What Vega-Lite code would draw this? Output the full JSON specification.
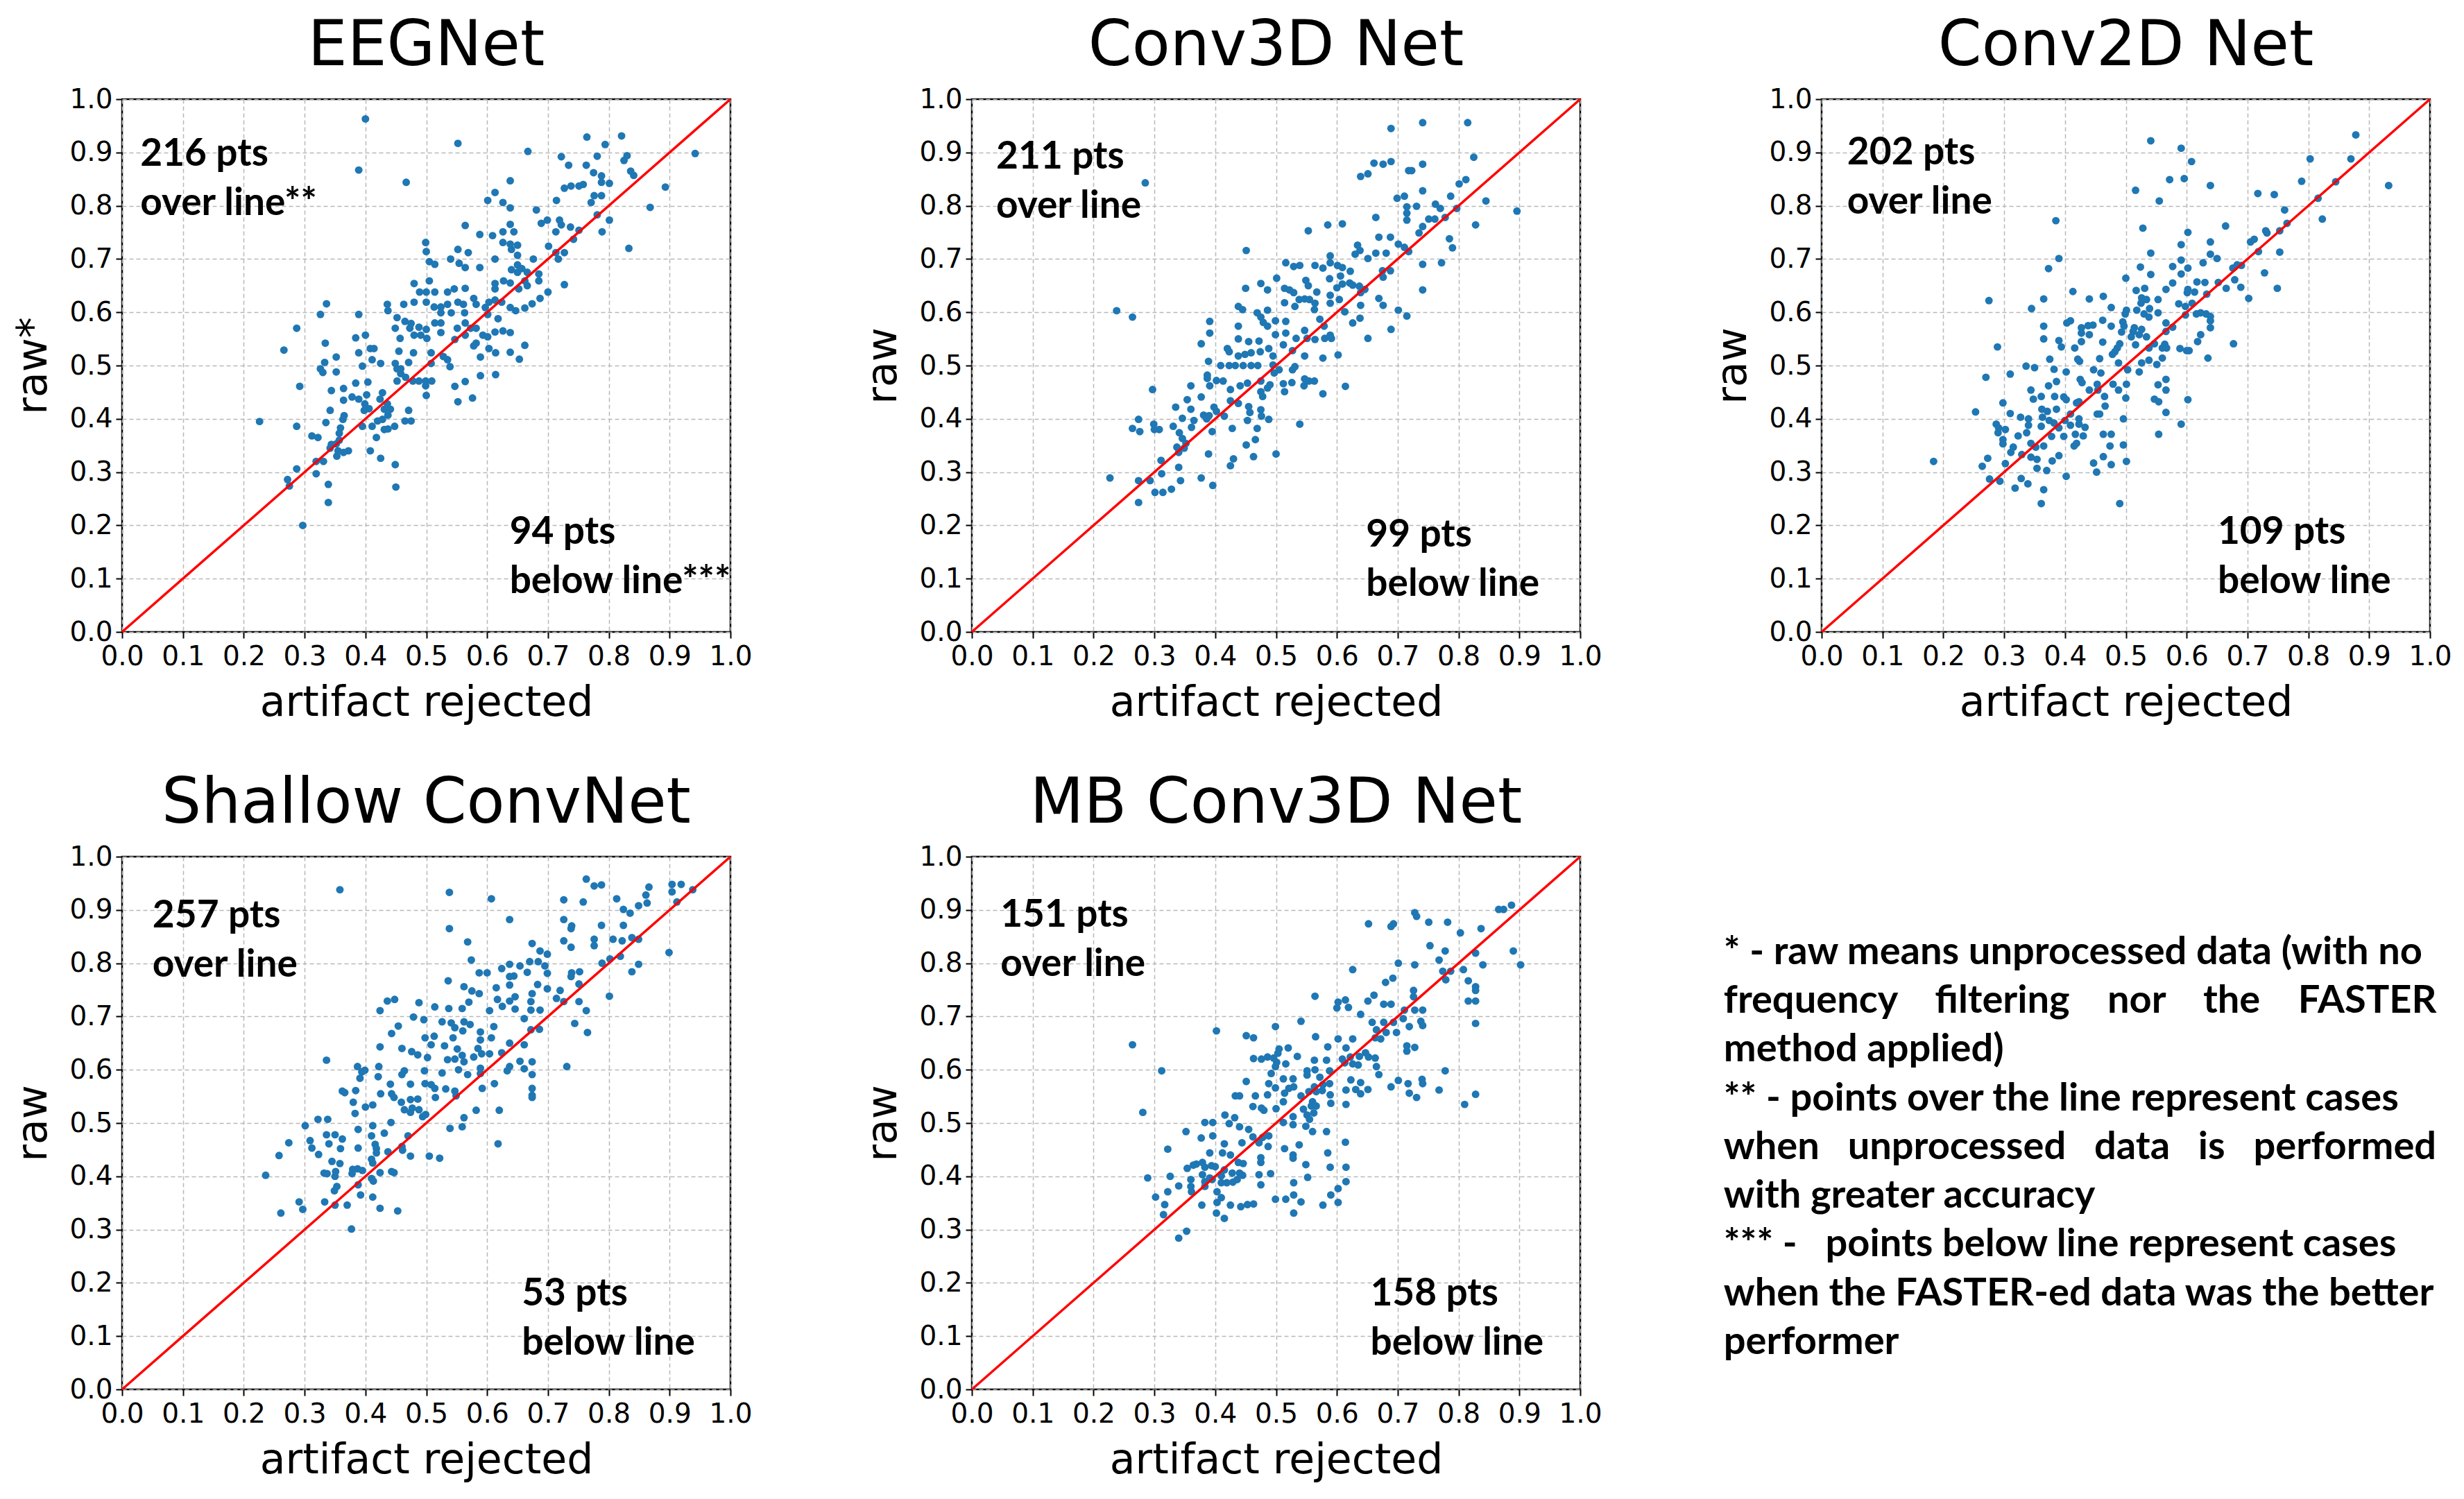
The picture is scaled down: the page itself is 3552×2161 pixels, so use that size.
{
  "$schema": "https://vega.github.io/schema/vega-lite/v6.json",
  "background": "white",
  "padding": {"left": 17, "top": 20, "right": 0, "bottom": 0},
  "config": {
    "font": "DejaVu Sans",
    "view": {"stroke": "#000000", "strokeWidth": 2.5},
    "axis": {
      "grid": true, "gridColor": "#b8b8b8", "gridDash": [6, 4], "gridWidth": 1.5,
      "domain": false, "ticks": true, "tickSize": 9, "tickWidth": 2, "tickColor": "#000000",
      "labelFont": "DejaVu Sans", "labelFontSize": 39, "labelColor": "#000000", "labelPadding": 5,
      "labelFlush": false, "labelOverlap": false,
      "titleFont": "DejaVu Sans", "titleFontSize": 60, "titleFontWeight": "normal", "titleColor": "#000000"
    },
    "axisX": {"titlePadding": 18, "labelPadding": 7},
    "axisY": {"titlePadding": 20},
    "title": {"font": "DejaVu Sans", "fontSize": 90, "fontWeight": "normal", "color": "#000000", "baseline": "alphabetic", "offset": 11},
    "text": {"font": "Lato", "fontWeight": "bold", "fontSize": 55, "color": "#000000"},
    "point": {"filled": true, "size": 120, "color": "#1f77b4", "opacity": 1, "strokeWidth": 0}
  },
  "datasets": {
    "eegnet": [
      {"rejected":0.40,"raw":0.963},{"rejected":0.552,"raw":0.917},{"rejected":0.389,"raw":0.867},{"rejected":0.467,"raw":0.844},{"rejected":0.667,"raw":0.902},{"rejected":0.764,"raw":0.929},{"rejected":0.821,"raw":0.931},{"rejected":0.794,"raw":0.915},{"rejected":0.942,"raw":0.898},{"rejected":0.722,"raw":0.892},
      {"rejected":0.734,"raw":0.876},{"rejected":0.781,"raw":0.893},{"rejected":0.830,"raw":0.894},{"rejected":0.825,"raw":0.885},{"rejected":0.763,"raw":0.876},{"rejected":0.836,"raw":0.865},{"rejected":0.841,"raw":0.857},{"rejected":0.775,"raw":0.862},{"rejected":0.788,"raw":0.856},{"rejected":0.801,"raw":0.842},
      {"rejected":0.788,"raw":0.844},{"rejected":0.758,"raw":0.840},{"rejected":0.751,"raw":0.837},{"rejected":0.738,"raw":0.837},{"rejected":0.727,"raw":0.833},{"rejected":0.893,"raw":0.835},{"rejected":0.776,"raw":0.819},{"rejected":0.788,"raw":0.819},{"rejected":0.771,"raw":0.806},{"rejected":0.714,"raw":0.810},
      {"rejected":0.868,"raw":0.797},{"rejected":0.638,"raw":0.847},{"rejected":0.613,"raw":0.825},{"rejected":0.601,"raw":0.810},{"rejected":0.626,"raw":0.806},{"rejected":0.638,"raw":0.796},{"rejected":0.681,"raw":0.792},{"rejected":0.781,"raw":0.783},{"rejected":0.801,"raw":0.773},{"rejected":0.719,"raw":0.773},
      {"rejected":0.699,"raw":0.773},{"rejected":0.689,"raw":0.767},{"rejected":0.722,"raw":0.764},{"rejected":0.737,"raw":0.760},{"rejected":0.751,"raw":0.754},{"rejected":0.713,"raw":0.751},{"rejected":0.789,"raw":0.751},{"rejected":0.742,"raw":0.737},{"rejected":0.833,"raw":0.720},{"rejected":0.638,"raw":0.765},
      {"rejected":0.644,"raw":0.751},{"rejected":0.626,"raw":0.751},{"rejected":0.609,"raw":0.744},{"rejected":0.588,"raw":0.746},{"rejected":0.564,"raw":0.763},{"rejected":0.626,"raw":0.731},{"rejected":0.638,"raw":0.728},{"rejected":0.650,"raw":0.726},{"rejected":0.640,"raw":0.718},{"rejected":0.650,"raw":0.707},
      {"rejected":0.701,"raw":0.724},{"rejected":0.713,"raw":0.712},{"rejected":0.727,"raw":0.712},{"rejected":0.717,"raw":0.700},{"rejected":0.676,"raw":0.700},{"rejected":0.552,"raw":0.718},{"rejected":0.569,"raw":0.712},{"rejected":0.613,"raw":0.700},{"rejected":0.499,"raw":0.731},{"rejected":0.500,"raw":0.714},
      {"rejected":0.540,"raw":0.700},{"rejected":0.554,"raw":0.692},{"rejected":0.564,"raw":0.684},{"rejected":0.588,"raw":0.684},{"rejected":0.505,"raw":0.695},{"rejected":0.514,"raw":0.690},{"rejected":0.650,"raw":0.689},{"rejected":0.640,"raw":0.680},{"rejected":0.650,"raw":0.675},{"rejected":0.657,"raw":0.682},
      {"rejected":0.666,"raw":0.675},{"rejected":0.685,"raw":0.672},{"rejected":0.685,"raw":0.659},{"rejected":0.662,"raw":0.659},{"rejected":0.666,"raw":0.650},{"rejected":0.652,"raw":0.644},{"rejected":0.638,"raw":0.655},{"rejected":0.627,"raw":0.659},{"rejected":0.613,"raw":0.654},{"rejected":0.613,"raw":0.644},
      {"rejected":0.700,"raw":0.638},{"rejected":0.727,"raw":0.652},{"rejected":0.687,"raw":0.626},{"rejected":0.674,"raw":0.616},{"rejected":0.662,"raw":0.608},{"rejected":0.647,"raw":0.603},{"rejected":0.638,"raw":0.609},{"rejected":0.624,"raw":0.619},{"rejected":0.613,"raw":0.623},{"rejected":0.603,"raw":0.619},
      {"rejected":0.597,"raw":0.609},{"rejected":0.618,"raw":0.588},{"rejected":0.601,"raw":0.596},{"rejected":0.480,"raw":0.654},{"rejected":0.505,"raw":0.659},{"rejected":0.489,"raw":0.638},{"rejected":0.500,"raw":0.638},{"rejected":0.514,"raw":0.638},{"rejected":0.535,"raw":0.638},{"rejected":0.546,"raw":0.644},
      {"rejected":0.564,"raw":0.645},{"rejected":0.500,"raw":0.619},{"rejected":0.480,"raw":0.619},{"rejected":0.463,"raw":0.615},{"rejected":0.436,"raw":0.615},{"rejected":0.437,"raw":0.603},{"rejected":0.452,"raw":0.590},{"rejected":0.465,"raw":0.583},{"rejected":0.475,"raw":0.579},{"rejected":0.488,"raw":0.572},
      {"rejected":0.500,"raw":0.568},{"rejected":0.449,"raw":0.570},{"rejected":0.473,"raw":0.570},{"rejected":0.457,"raw":0.551},{"rejected":0.480,"raw":0.557},{"rejected":0.491,"raw":0.557},{"rejected":0.501,"raw":0.551},{"rejected":0.513,"raw":0.610},{"rejected":0.524,"raw":0.610},{"rejected":0.535,"raw":0.615},
      {"rejected":0.552,"raw":0.619},{"rejected":0.561,"raw":0.615},{"rejected":0.578,"raw":0.626},{"rejected":0.582,"raw":0.615},{"rejected":0.524,"raw":0.599},{"rejected":0.541,"raw":0.599},{"rejected":0.563,"raw":0.599},{"rejected":0.514,"raw":0.580},{"rejected":0.524,"raw":0.580},{"rejected":0.564,"raw":0.580},
      {"rejected":0.551,"raw":0.570},{"rejected":0.573,"raw":0.570},{"rejected":0.582,"raw":0.570},{"rejected":0.524,"raw":0.562},{"rejected":0.593,"raw":0.557},{"rejected":0.601,"raw":0.554},{"rejected":0.613,"raw":0.563},{"rejected":0.626,"raw":0.565},{"rejected":0.638,"raw":0.562},{"rejected":0.547,"raw":0.549},
      {"rejected":0.564,"raw":0.557},{"rejected":0.582,"raw":0.542},{"rejected":0.578,"raw":0.537},{"rejected":0.603,"raw":0.532},{"rejected":0.614,"raw":0.524},{"rejected":0.638,"raw":0.525},{"rejected":0.662,"raw":0.538},{"rejected":0.653,"raw":0.512},{"rejected":0.589,"raw":0.516},{"rejected":0.535,"raw":0.511},
      {"rejected":0.528,"raw":0.517},{"rejected":0.508,"raw":0.524},{"rejected":0.479,"raw":0.524},{"rejected":0.455,"raw":0.527},{"rejected":0.449,"raw":0.504},{"rejected":0.471,"raw":0.506},{"rejected":0.458,"raw":0.494},{"rejected":0.508,"raw":0.504},{"rejected":0.539,"raw":0.498},{"rejected":0.425,"raw":0.504},
      {"rejected":0.411,"raw":0.511},{"rejected":0.408,"raw":0.532},{"rejected":0.414,"raw":0.532},{"rejected":0.400,"raw":0.557},{"rejected":0.384,"raw":0.552},{"rejected":0.389,"raw":0.596},{"rejected":0.389,"raw":0.524},{"rejected":0.395,"raw":0.499},{"rejected":0.326,"raw":0.596},{"rejected":0.336,"raw":0.616},
      {"rejected":0.287,"raw":0.570},{"rejected":0.266,"raw":0.529},{"rejected":0.334,"raw":0.542},{"rejected":0.352,"raw":0.516},{"rejected":0.333,"raw":0.506},{"rejected":0.326,"raw":0.494},{"rejected":0.330,"raw":0.487},{"rejected":0.352,"raw":0.488},{"rejected":0.292,"raw":0.461},{"rejected":0.344,"raw":0.453},
      {"rejected":0.364,"raw":0.457},{"rejected":0.364,"raw":0.435},{"rejected":0.384,"raw":0.467},{"rejected":0.404,"raw":0.469},{"rejected":0.378,"raw":0.441},{"rejected":0.389,"raw":0.437},{"rejected":0.402,"raw":0.445},{"rejected":0.399,"raw":0.428},{"rejected":0.398,"raw":0.416},{"rejected":0.406,"raw":0.419},
      {"rejected":0.428,"raw":0.449},{"rejected":0.424,"raw":0.437},{"rejected":0.436,"raw":0.428},{"rejected":0.441,"raw":0.418},{"rejected":0.431,"raw":0.418},{"rejected":0.437,"raw":0.407},{"rejected":0.428,"raw":0.399},{"rejected":0.420,"raw":0.396},{"rejected":0.437,"raw":0.381},{"rejected":0.448,"raw":0.386},
      {"rejected":0.431,"raw":0.380},{"rejected":0.411,"raw":0.386},{"rejected":0.395,"raw":0.386},{"rejected":0.471,"raw":0.416},{"rejected":0.465,"raw":0.396},{"rejected":0.475,"raw":0.396},{"rejected":0.452,"raw":0.471},{"rejected":0.452,"raw":0.494},{"rejected":0.458,"raw":0.485},{"rejected":0.466,"raw":0.478},
      {"rejected":0.478,"raw":0.471},{"rejected":0.488,"raw":0.471},{"rejected":0.499,"raw":0.471},{"rejected":0.509,"raw":0.471},{"rejected":0.499,"raw":0.462},{"rejected":0.500,"raw":0.444},{"rejected":0.547,"raw":0.461},{"rejected":0.564,"raw":0.470},{"rejected":0.552,"raw":0.432},{"rejected":0.576,"raw":0.439},
      {"rejected":0.589,"raw":0.481},{"rejected":0.614,"raw":0.483},{"rejected":0.342,"raw":0.416},{"rejected":0.365,"raw":0.406},{"rejected":0.363,"raw":0.399},{"rejected":0.335,"raw":0.393},{"rejected":0.359,"raw":0.383},{"rejected":0.357,"raw":0.373},{"rejected":0.357,"raw":0.360},{"rejected":0.352,"raw":0.353},
      {"rejected":0.344,"raw":0.352},{"rejected":0.342,"raw":0.345},{"rejected":0.355,"raw":0.340},{"rejected":0.372,"raw":0.340},{"rejected":0.364,"raw":0.337},{"rejected":0.353,"raw":0.330},{"rejected":0.312,"raw":0.368},{"rejected":0.322,"raw":0.365},{"rejected":0.287,"raw":0.386},{"rejected":0.226,"raw":0.395},
      {"rejected":0.408,"raw":0.340},{"rejected":0.425,"raw":0.326},{"rejected":0.418,"raw":0.365},{"rejected":0.449,"raw":0.314},{"rejected":0.450,"raw":0.272},{"rejected":0.319,"raw":0.320},{"rejected":0.331,"raw":0.320},{"rejected":0.287,"raw":0.306},{"rejected":0.319,"raw":0.297},{"rejected":0.272,"raw":0.286},
      {"rejected":0.275,"raw":0.274},{"rejected":0.339,"raw":0.277},{"rejected":0.339,"raw":0.243},{"rejected":0.297,"raw":0.200}
    ],
    "conv3d": [
      {"rejected":0.741,"raw":0.956},{"rejected":0.815,"raw":0.956},{"rejected":0.689,"raw":0.945},{"rejected":0.825,"raw":0.891},{"rejected":0.661,"raw":0.880},{"rejected":0.676,"raw":0.878},{"rejected":0.689,"raw":0.883},{"rejected":0.741,"raw":0.878},{"rejected":0.639,"raw":0.855},{"rejected":0.651,"raw":0.860},
      {"rejected":0.718,"raw":0.866},{"rejected":0.723,"raw":0.866},{"rejected":0.285,"raw":0.843},{"rejected":0.741,"raw":0.828},{"rejected":0.801,"raw":0.841},{"rejected":0.812,"raw":0.849},{"rejected":0.699,"raw":0.814},{"rejected":0.711,"raw":0.818},{"rejected":0.787,"raw":0.818},{"rejected":0.845,"raw":0.809},
      {"rejected":0.715,"raw":0.798},{"rejected":0.731,"raw":0.799},{"rejected":0.762,"raw":0.803},{"rejected":0.770,"raw":0.795},{"rejected":0.797,"raw":0.795},{"rejected":0.896,"raw":0.790},{"rejected":0.715,"raw":0.786},{"rejected":0.715,"raw":0.773},{"rejected":0.751,"raw":0.775},{"rejected":0.761,"raw":0.775},
      {"rejected":0.778,"raw":0.778},{"rejected":0.664,"raw":0.778},{"rejected":0.585,"raw":0.764},{"rejected":0.609,"raw":0.766},{"rejected":0.553,"raw":0.753},{"rejected":0.828,"raw":0.764},{"rejected":0.741,"raw":0.761},{"rejected":0.735,"raw":0.749},{"rejected":0.669,"raw":0.741},{"rejected":0.688,"raw":0.741},
      {"rejected":0.785,"raw":0.738},{"rejected":0.790,"raw":0.721},{"rejected":0.634,"raw":0.726},{"rejected":0.638,"raw":0.716},{"rejected":0.630,"raw":0.709},{"rejected":0.664,"raw":0.711},{"rejected":0.681,"raw":0.711},{"rejected":0.701,"raw":0.728},{"rejected":0.711,"raw":0.722},{"rejected":0.718,"raw":0.714},
      {"rejected":0.651,"raw":0.701},{"rejected":0.451,"raw":0.716},{"rejected":0.772,"raw":0.693},{"rejected":0.741,"raw":0.690},{"rejected":0.589,"raw":0.706},{"rejected":0.589,"raw":0.693},{"rejected":0.601,"raw":0.688},{"rejected":0.577,"raw":0.683},{"rejected":0.564,"raw":0.688},{"rejected":0.516,"raw":0.693},
      {"rejected":0.529,"raw":0.686},{"rejected":0.539,"raw":0.688},{"rejected":0.501,"raw":0.664},{"rejected":0.609,"raw":0.684},{"rejected":0.622,"raw":0.677},{"rejected":0.606,"raw":0.668},{"rejected":0.621,"raw":0.655},{"rejected":0.609,"raw":0.653},{"rejected":0.588,"raw":0.663},{"rejected":0.549,"raw":0.660},
      {"rejected":0.553,"raw":0.650},{"rejected":0.514,"raw":0.645},{"rejected":0.522,"raw":0.642},{"rejected":0.529,"raw":0.637},{"rejected":0.567,"raw":0.638},{"rejected":0.600,"raw":0.646},{"rejected":0.626,"raw":0.651},{"rejected":0.637,"raw":0.649},{"rejected":0.646,"raw":0.643},{"rejected":0.675,"raw":0.678},
      {"rejected":0.688,"raw":0.678},{"rejected":0.676,"raw":0.666},{"rejected":0.741,"raw":0.642},{"rejected":0.475,"raw":0.654},{"rejected":0.486,"raw":0.642},{"rejected":0.450,"raw":0.645},{"rejected":0.538,"raw":0.624},{"rejected":0.547,"raw":0.625},{"rejected":0.555,"raw":0.624},{"rejected":0.514,"raw":0.618},
      {"rejected":0.531,"raw":0.611},{"rejected":0.564,"raw":0.617},{"rejected":0.563,"raw":0.605},{"rejected":0.589,"raw":0.632},{"rejected":0.589,"raw":0.617},{"rejected":0.604,"raw":0.624},{"rejected":0.639,"raw":0.637},{"rejected":0.639,"raw":0.613},{"rejected":0.669,"raw":0.626},{"rejected":0.676,"raw":0.613},
      {"rejected":0.613,"raw":0.601},{"rejected":0.638,"raw":0.589},{"rejected":0.626,"raw":0.580},{"rejected":0.701,"raw":0.604},{"rejected":0.715,"raw":0.593},{"rejected":0.689,"raw":0.568},{"rejected":0.651,"raw":0.551},{"rejected":0.438,"raw":0.611},{"rejected":0.445,"raw":0.605},{"rejected":0.469,"raw":0.599},
      {"rejected":0.486,"raw":0.604},{"rejected":0.475,"raw":0.591},{"rejected":0.479,"raw":0.581},{"rejected":0.486,"raw":0.574},{"rejected":0.499,"raw":0.584},{"rejected":0.516,"raw":0.583},{"rejected":0.391,"raw":0.583},{"rejected":0.391,"raw":0.561},{"rejected":0.438,"raw":0.574},{"rejected":0.572,"raw":0.587},
      {"rejected":0.579,"raw":0.574},{"rejected":0.547,"raw":0.566},{"rejected":0.533,"raw":0.551},{"rejected":0.551,"raw":0.551},{"rejected":0.564,"raw":0.549},{"rejected":0.580,"raw":0.551},{"rejected":0.589,"raw":0.557},{"rejected":0.591,"raw":0.551},{"rejected":0.516,"raw":0.561},{"rejected":0.499,"raw":0.558},
      {"rejected":0.420,"raw":0.532},{"rejected":0.423,"raw":0.526},{"rejected":0.438,"raw":0.550},{"rejected":0.455,"raw":0.545},{"rejected":0.472,"raw":0.546},{"rejected":0.377,"raw":0.541},{"rejected":0.438,"raw":0.518},{"rejected":0.449,"raw":0.521},{"rejected":0.459,"raw":0.524},{"rejected":0.474,"raw":0.526},
      {"rejected":0.488,"raw":0.532},{"rejected":0.495,"raw":0.518},{"rejected":0.527,"raw":0.528},{"rejected":0.512,"raw":0.539},{"rejected":0.547,"raw":0.518},{"rejected":0.577,"raw":0.514},{"rejected":0.602,"raw":0.520},{"rejected":0.389,"raw":0.508},{"rejected":0.409,"raw":0.500},{"rejected":0.423,"raw":0.500},
      {"rejected":0.433,"raw":0.500},{"rejected":0.446,"raw":0.500},{"rejected":0.459,"raw":0.500},{"rejected":0.470,"raw":0.500},{"rejected":0.495,"raw":0.501},{"rejected":0.505,"raw":0.492},{"rejected":0.527,"raw":0.492},{"rejected":0.531,"raw":0.498},{"rejected":0.497,"raw":0.486},{"rejected":0.387,"raw":0.482},
      {"rejected":0.387,"raw":0.476},{"rejected":0.402,"raw":0.472},{"rejected":0.413,"raw":0.471},{"rejected":0.391,"raw":0.462},{"rejected":0.425,"raw":0.455},{"rejected":0.441,"raw":0.462},{"rejected":0.453,"raw":0.467},{"rejected":0.475,"raw":0.471},{"rejected":0.486,"raw":0.458},{"rejected":0.490,"raw":0.464},
      {"rejected":0.475,"raw":0.451},{"rejected":0.478,"raw":0.442},{"rejected":0.514,"raw":0.451},{"rejected":0.512,"raw":0.466},{"rejected":0.526,"raw":0.468},{"rejected":0.547,"raw":0.475},{"rejected":0.554,"raw":0.471},{"rejected":0.563,"raw":0.471},{"rejected":0.546,"raw":0.462},{"rejected":0.577,"raw":0.447},
      {"rejected":0.614,"raw":0.461},{"rejected":0.360,"raw":0.462},{"rejected":0.297,"raw":0.455},{"rejected":0.354,"raw":0.436},{"rejected":0.377,"raw":0.441},{"rejected":0.335,"raw":0.422},{"rejected":0.360,"raw":0.418},{"rejected":0.381,"raw":0.407},{"rejected":0.398,"raw":0.422},{"rejected":0.402,"raw":0.414},
      {"rejected":0.390,"raw":0.406},{"rejected":0.346,"raw":0.401},{"rejected":0.365,"raw":0.397},{"rejected":0.361,"raw":0.384},{"rejected":0.386,"raw":0.400},{"rejected":0.415,"raw":0.405},{"rejected":0.425,"raw":0.434},{"rejected":0.438,"raw":0.429},{"rejected":0.455,"raw":0.423},{"rejected":0.457,"raw":0.412},
      {"rejected":0.475,"raw":0.417},{"rejected":0.476,"raw":0.405},{"rejected":0.488,"raw":0.399},{"rejected":0.453,"raw":0.397},{"rejected":0.428,"raw":0.382},{"rejected":0.469,"raw":0.382},{"rejected":0.539,"raw":0.390},{"rejected":0.274,"raw":0.399},{"rejected":0.264,"raw":0.382},{"rejected":0.276,"raw":0.376},
      {"rejected":0.299,"raw":0.390},{"rejected":0.300,"raw":0.380},{"rejected":0.308,"raw":0.380},{"rejected":0.331,"raw":0.386},{"rejected":0.341,"raw":0.374},{"rejected":0.346,"raw":0.363},{"rejected":0.352,"raw":0.354},{"rejected":0.349,"raw":0.345},{"rejected":0.337,"raw":0.347},{"rejected":0.395,"raw":0.376},
      {"rejected":0.466,"raw":0.361},{"rejected":0.451,"raw":0.351},{"rejected":0.389,"raw":0.334},{"rejected":0.340,"raw":0.337},{"rejected":0.463,"raw":0.329},{"rejected":0.500,"raw":0.334},{"rejected":0.430,"raw":0.325},{"rejected":0.425,"raw":0.312},{"rejected":0.311,"raw":0.322},{"rejected":0.340,"raw":0.309},
      {"rejected":0.312,"raw":0.297},{"rejected":0.227,"raw":0.289},{"rejected":0.274,"raw":0.284},{"rejected":0.293,"raw":0.284},{"rejected":0.343,"raw":0.284},{"rejected":0.377,"raw":0.289},{"rejected":0.396,"raw":0.275},{"rejected":0.328,"raw":0.268},{"rejected":0.314,"raw":0.262},{"rejected":0.301,"raw":0.262},
      {"rejected":0.274,"raw":0.243},{"rejected":0.238,"raw":0.603},{"rejected":0.264,"raw":0.591}
    ],
    "conv2d": [
      {"rejected":0.878,"raw":0.933},{"rejected":0.541,"raw":0.922},{"rejected":0.591,"raw":0.908},{"rejected":0.608,"raw":0.883},{"rejected":0.803,"raw":0.888},{"rejected":0.870,"raw":0.888},{"rejected":0.572,"raw":0.849},{"rejected":0.596,"raw":0.851},{"rejected":0.639,"raw":0.838},{"rejected":0.789,"raw":0.846},
      {"rejected":0.845,"raw":0.845},{"rejected":0.932,"raw":0.838},{"rejected":0.516,"raw":0.829},{"rejected":0.717,"raw":0.823},{"rejected":0.744,"raw":0.821},{"rejected":0.816,"raw":0.814},{"rejected":0.555,"raw":0.809},{"rejected":0.761,"raw":0.792},{"rejected":0.385,"raw":0.772},{"rejected":0.765,"raw":0.767},
      {"rejected":0.823,"raw":0.775},{"rejected":0.528,"raw":0.758},{"rejected":0.664,"raw":0.762},{"rejected":0.602,"raw":0.750},{"rejected":0.730,"raw":0.753},{"rejected":0.732,"raw":0.749},{"rejected":0.753,"raw":0.753},{"rejected":0.705,"raw":0.732},{"rejected":0.711,"raw":0.737},{"rejected":0.591,"raw":0.727},
      {"rejected":0.639,"raw":0.732},{"rejected":0.718,"raw":0.714},{"rejected":0.753,"raw":0.713},{"rejected":0.541,"raw":0.711},{"rejected":0.639,"raw":0.709},{"rejected":0.650,"raw":0.701},{"rejected":0.390,"raw":0.701},{"rejected":0.591,"raw":0.698},{"rejected":0.627,"raw":0.693},{"rejected":0.676,"raw":0.683},
      {"rejected":0.683,"raw":0.689},{"rejected":0.690,"raw":0.688},{"rejected":0.373,"raw":0.682},{"rejected":0.524,"raw":0.685},{"rejected":0.577,"raw":0.686},{"rejected":0.602,"raw":0.683},{"rejected":0.728,"raw":0.674},{"rejected":0.541,"raw":0.671},{"rejected":0.591,"raw":0.672},{"rejected":0.500,"raw":0.664},
      {"rejected":0.679,"raw":0.661},{"rejected":0.617,"raw":0.657},{"rejected":0.630,"raw":0.656},{"rejected":0.652,"raw":0.656},{"rejected":0.665,"raw":0.645},{"rejected":0.689,"raw":0.647},{"rejected":0.749,"raw":0.645},{"rejected":0.577,"raw":0.655},{"rejected":0.602,"raw":0.643},{"rejected":0.566,"raw":0.643},
      {"rejected":0.517,"raw":0.641},{"rejected":0.531,"raw":0.645},{"rejected":0.413,"raw":0.639},{"rejected":0.440,"raw":0.625},{"rejected":0.463,"raw":0.630},{"rejected":0.526,"raw":0.627},{"rejected":0.525,"raw":0.617},{"rejected":0.534,"raw":0.624},{"rejected":0.553,"raw":0.624},{"rejected":0.702,"raw":0.626},
      {"rejected":0.601,"raw":0.637},{"rejected":0.613,"raw":0.638},{"rejected":0.633,"raw":0.634},{"rejected":0.275,"raw":0.622},{"rejected":0.365,"raw":0.625},{"rejected":0.345,"raw":0.607},{"rejected":0.476,"raw":0.609},{"rejected":0.518,"raw":0.604},{"rejected":0.539,"raw":0.607},{"rejected":0.553,"raw":0.599},
      {"rejected":0.587,"raw":0.616},{"rejected":0.598,"raw":0.611},{"rejected":0.609,"raw":0.617},{"rejected":0.501,"raw":0.604},{"rejected":0.499,"raw":0.597},{"rejected":0.530,"raw":0.597},{"rejected":0.538,"raw":0.591},{"rejected":0.623,"raw":0.599},{"rejected":0.632,"raw":0.597},{"rejected":0.639,"raw":0.592},
      {"rejected":0.639,"raw":0.584},{"rejected":0.639,"raw":0.571},{"rejected":0.616,"raw":0.597},{"rejected":0.598,"raw":0.595},{"rejected":0.577,"raw":0.572},{"rejected":0.566,"raw":0.580},{"rejected":0.566,"raw":0.564},{"rejected":0.403,"raw":0.580},{"rejected":0.409,"raw":0.584},{"rejected":0.365,"raw":0.574},
      {"rejected":0.427,"raw":0.571},{"rejected":0.438,"raw":0.575},{"rejected":0.446,"raw":0.576},{"rejected":0.462,"raw":0.585},{"rejected":0.476,"raw":0.574},{"rejected":0.495,"raw":0.582},{"rejected":0.497,"raw":0.574},{"rejected":0.514,"raw":0.571},{"rejected":0.512,"raw":0.564},{"rejected":0.526,"raw":0.568},
      {"rejected":0.522,"raw":0.558},{"rejected":0.534,"raw":0.554},{"rejected":0.493,"raw":0.563},{"rejected":0.509,"raw":0.554},{"rejected":0.427,"raw":0.561},{"rejected":0.440,"raw":0.558},{"rejected":0.365,"raw":0.550},{"rejected":0.390,"raw":0.547},{"rejected":0.394,"raw":0.535},{"rejected":0.416,"raw":0.533},
      {"rejected":0.427,"raw":0.545},{"rejected":0.462,"raw":0.544},{"rejected":0.490,"raw":0.541},{"rejected":0.486,"raw":0.533},{"rejected":0.482,"raw":0.526},{"rejected":0.478,"raw":0.521},{"rejected":0.516,"raw":0.539},{"rejected":0.547,"raw":0.541},{"rejected":0.564,"raw":0.540},{"rejected":0.567,"raw":0.533},
      {"rejected":0.538,"raw":0.533},{"rejected":0.560,"raw":0.533},{"rejected":0.589,"raw":0.532},{"rejected":0.600,"raw":0.528},{"rejected":0.604,"raw":0.528},{"rejected":0.623,"raw":0.558},{"rejected":0.618,"raw":0.545},{"rejected":0.635,"raw":0.514},{"rejected":0.677,"raw":0.541},{"rejected":0.289,"raw":0.535},
      {"rejected":0.270,"raw":0.478},{"rejected":0.310,"raw":0.484},{"rejected":0.336,"raw":0.499},{"rejected":0.350,"raw":0.496},{"rejected":0.375,"raw":0.512},{"rejected":0.382,"raw":0.493},{"rejected":0.402,"raw":0.488},{"rejected":0.421,"raw":0.512},{"rejected":0.424,"raw":0.508},{"rejected":0.447,"raw":0.492},
      {"rejected":0.457,"raw":0.513},{"rejected":0.459,"raw":0.486},{"rejected":0.488,"raw":0.505},{"rejected":0.503,"raw":0.492},{"rejected":0.522,"raw":0.488},{"rejected":0.526,"raw":0.505},{"rejected":0.538,"raw":0.510},{"rejected":0.551,"raw":0.502},{"rejected":0.560,"raw":0.514},{"rejected":0.344,"raw":0.454},
      {"rejected":0.373,"raw":0.462},{"rejected":0.386,"raw":0.470},{"rejected":0.425,"raw":0.474},{"rejected":0.428,"raw":0.468},{"rejected":0.453,"raw":0.465},{"rejected":0.454,"raw":0.454},{"rejected":0.479,"raw":0.465},{"rejected":0.488,"raw":0.454},{"rejected":0.501,"raw":0.465},{"rejected":0.566,"raw":0.474},
      {"rejected":0.566,"raw":0.454},{"rejected":0.553,"raw":0.464},{"rejected":0.298,"raw":0.430},{"rejected":0.348,"raw":0.437},{"rejected":0.361,"raw":0.442},{"rejected":0.383,"raw":0.442},{"rejected":0.398,"raw":0.441},{"rejected":0.402,"raw":0.436},{"rejected":0.440,"raw":0.454},{"rejected":0.465,"raw":0.442},
      {"rejected":0.500,"raw":0.439},{"rejected":0.547,"raw":0.437},{"rejected":0.554,"raw":0.432},{"rejected":0.602,"raw":0.436},{"rejected":0.253,"raw":0.413},{"rejected":0.310,"raw":0.410},{"rejected":0.362,"raw":0.418},{"rejected":0.371,"raw":0.414},{"rejected":0.386,"raw":0.418},{"rejected":0.419,"raw":0.430},
      {"rejected":0.423,"raw":0.432},{"rejected":0.466,"raw":0.424},{"rejected":0.566,"raw":0.412},{"rejected":0.327,"raw":0.403},{"rejected":0.340,"raw":0.400},{"rejected":0.363,"raw":0.403},{"rejected":0.374,"raw":0.397},{"rejected":0.400,"raw":0.397},{"rejected":0.409,"raw":0.409},{"rejected":0.423,"raw":0.400},
      {"rejected":0.453,"raw":0.409},{"rejected":0.457,"raw":0.409},{"rejected":0.496,"raw":0.400},{"rejected":0.591,"raw":0.390},{"rejected":0.287,"raw":0.390},{"rejected":0.291,"raw":0.383},{"rejected":0.302,"raw":0.380},{"rejected":0.290,"raw":0.374},{"rejected":0.340,"raw":0.388},{"rejected":0.361,"raw":0.386},
      {"rejected":0.382,"raw":0.392},{"rejected":0.390,"raw":0.383},{"rejected":0.409,"raw":0.388},{"rejected":0.423,"raw":0.390},{"rejected":0.433,"raw":0.384},{"rejected":0.298,"raw":0.361},{"rejected":0.323,"raw":0.368},{"rejected":0.337,"raw":0.374},{"rejected":0.378,"raw":0.367},{"rejected":0.398,"raw":0.367},
      {"rejected":0.417,"raw":0.371},{"rejected":0.430,"raw":0.368},{"rejected":0.463,"raw":0.371},{"rejected":0.476,"raw":0.371},{"rejected":0.554,"raw":0.371},{"rejected":0.298,"raw":0.353},{"rejected":0.315,"raw":0.347},{"rejected":0.344,"raw":0.354},{"rejected":0.352,"raw":0.347},{"rejected":0.365,"raw":0.349},
      {"rejected":0.415,"raw":0.349},{"rejected":0.419,"raw":0.354},{"rejected":0.474,"raw":0.349},{"rejected":0.496,"raw":0.351},{"rejected":0.311,"raw":0.337},{"rejected":0.329,"raw":0.333},{"rejected":0.344,"raw":0.328},{"rejected":0.354,"raw":0.324},{"rejected":0.390,"raw":0.331},{"rejected":0.463,"raw":0.329},
      {"rejected":0.273,"raw":0.326},{"rejected":0.184,"raw":0.320},{"rejected":0.302,"raw":0.316},{"rejected":0.264,"raw":0.311},{"rejected":0.379,"raw":0.321},{"rejected":0.447,"raw":0.317},{"rejected":0.476,"raw":0.314},{"rejected":0.501,"raw":0.320},{"rejected":0.354,"raw":0.307},{"rejected":0.370,"raw":0.303},
      {"rejected":0.452,"raw":0.300},{"rejected":0.276,"raw":0.287},{"rejected":0.293,"raw":0.283},{"rejected":0.328,"raw":0.288},{"rejected":0.339,"raw":0.278},{"rejected":0.402,"raw":0.292},{"rejected":0.318,"raw":0.270},{"rejected":0.365,"raw":0.267},{"rejected":0.361,"raw":0.241},{"rejected":0.490,"raw":0.241}
    ],
    "shallow": [
      {"rejected":0.358,"raw":0.938},{"rejected":0.538,"raw":0.933},{"rejected":0.607,"raw":0.921},{"rejected":0.763,"raw":0.958},{"rejected":0.776,"raw":0.945},{"rejected":0.788,"raw":0.947},{"rejected":0.866,"raw":0.943},{"rejected":0.904,"raw":0.948},{"rejected":0.919,"raw":0.948},{"rejected":0.938,"raw":0.938},
      {"rejected":0.904,"raw":0.934},{"rejected":0.912,"raw":0.915},{"rejected":0.726,"raw":0.919},{"rejected":0.758,"raw":0.915},{"rejected":0.813,"raw":0.921},{"rejected":0.861,"raw":0.928},{"rejected":0.863,"raw":0.913},{"rejected":0.849,"raw":0.908},{"rejected":0.824,"raw":0.901},{"rejected":0.835,"raw":0.894},
      {"rejected":0.637,"raw":0.882},{"rejected":0.538,"raw":0.865},{"rejected":0.726,"raw":0.882},{"rejected":0.739,"raw":0.870},{"rejected":0.738,"raw":0.865},{"rejected":0.788,"raw":0.871},{"rejected":0.824,"raw":0.871},{"rejected":0.568,"raw":0.840},{"rejected":0.674,"raw":0.837},{"rejected":0.726,"raw":0.842},
      {"rejected":0.738,"raw":0.830},{"rejected":0.776,"raw":0.845},{"rejected":0.776,"raw":0.833},{"rejected":0.807,"raw":0.845},{"rejected":0.822,"raw":0.842},{"rejected":0.838,"raw":0.848},{"rejected":0.849,"raw":0.845},{"rejected":0.899,"raw":0.820},{"rejected":0.687,"raw":0.823},{"rejected":0.699,"raw":0.817},
      {"rejected":0.802,"raw":0.808},{"rejected":0.819,"raw":0.813},{"rejected":0.789,"raw":0.800},{"rejected":0.849,"raw":0.798},{"rejected":0.838,"raw":0.784},{"rejected":0.574,"raw":0.806},{"rejected":0.624,"raw":0.790},{"rejected":0.637,"raw":0.798},{"rejected":0.654,"raw":0.795},{"rejected":0.670,"raw":0.803},
      {"rejected":0.684,"raw":0.803},{"rejected":0.695,"raw":0.795},{"rejected":0.699,"raw":0.781},{"rejected":0.666,"raw":0.783},{"rejected":0.587,"raw":0.782},{"rejected":0.600,"raw":0.782},{"rejected":0.637,"raw":0.775},{"rejected":0.644,"raw":0.776},{"rejected":0.738,"raw":0.775},{"rejected":0.739,"raw":0.782},
      {"rejected":0.752,"raw":0.784},{"rejected":0.536,"raw":0.767},{"rejected":0.637,"raw":0.759},{"rejected":0.751,"raw":0.761},{"rejected":0.683,"raw":0.760},{"rejected":0.699,"raw":0.752},{"rejected":0.562,"raw":0.756},{"rejected":0.575,"raw":0.748},{"rejected":0.587,"raw":0.743},{"rejected":0.615,"raw":0.754},
      {"rejected":0.720,"raw":0.749},{"rejected":0.674,"raw":0.743},{"rejected":0.646,"raw":0.737},{"rejected":0.617,"raw":0.732},{"rejected":0.637,"raw":0.729},{"rejected":0.672,"raw":0.728},{"rejected":0.714,"raw":0.734},{"rejected":0.726,"raw":0.728},{"rejected":0.751,"raw":0.728},{"rejected":0.801,"raw":0.738},
      {"rejected":0.436,"raw":0.729},{"rejected":0.448,"raw":0.732},{"rejected":0.424,"raw":0.711},{"rejected":0.488,"raw":0.726},{"rejected":0.570,"raw":0.727},{"rejected":0.514,"raw":0.718},{"rejected":0.537,"raw":0.715},{"rejected":0.559,"raw":0.715},{"rejected":0.625,"raw":0.719},{"rejected":0.646,"raw":0.714},
      {"rejected":0.672,"raw":0.712},{"rejected":0.687,"raw":0.712},{"rejected":0.604,"raw":0.711},{"rejected":0.763,"raw":0.711},{"rejected":0.479,"raw":0.699},{"rejected":0.496,"raw":0.694},{"rejected":0.526,"raw":0.690},{"rejected":0.541,"raw":0.688},{"rejected":0.562,"raw":0.690},{"rejected":0.572,"raw":0.685},
      {"rejected":0.661,"raw":0.696},{"rejected":0.744,"raw":0.687},{"rejected":0.454,"raw":0.682},{"rejected":0.443,"raw":0.668},{"rejected":0.611,"raw":0.681},{"rejected":0.589,"raw":0.671},{"rejected":0.672,"raw":0.675},{"rejected":0.686,"raw":0.676},{"rejected":0.765,"raw":0.670},{"rejected":0.547,"raw":0.679},
      {"rejected":0.560,"raw":0.673},{"rejected":0.498,"raw":0.660},{"rejected":0.513,"raw":0.663},{"rejected":0.508,"raw":0.647},{"rejected":0.544,"raw":0.660},{"rejected":0.530,"raw":0.645},{"rejected":0.551,"raw":0.639},{"rejected":0.589,"raw":0.656},{"rejected":0.585,"raw":0.640},{"rejected":0.607,"raw":0.660},
      {"rejected":0.637,"raw":0.650},{"rejected":0.661,"raw":0.647},{"rejected":0.424,"raw":0.643},{"rejected":0.460,"raw":0.640},{"rejected":0.476,"raw":0.634},{"rejected":0.486,"raw":0.628},{"rejected":0.502,"raw":0.623},{"rejected":0.535,"raw":0.619},{"rejected":0.547,"raw":0.620},{"rejected":0.559,"raw":0.627},
      {"rejected":0.562,"raw":0.615},{"rejected":0.578,"raw":0.624},{"rejected":0.591,"raw":0.630},{"rejected":0.604,"raw":0.630},{"rejected":0.624,"raw":0.632},{"rejected":0.654,"raw":0.616},{"rejected":0.674,"raw":0.615},{"rejected":0.731,"raw":0.606},{"rejected":0.336,"raw":0.618},{"rejected":0.387,"raw":0.606},
      {"rejected":0.399,"raw":0.599},{"rejected":0.422,"raw":0.606},{"rejected":0.464,"raw":0.598},{"rejected":0.497,"raw":0.598},{"rejected":0.526,"raw":0.594},{"rejected":0.553,"raw":0.600},{"rejected":0.568,"raw":0.591},{"rejected":0.589,"raw":0.603},{"rejected":0.589,"raw":0.593},{"rejected":0.637,"raw":0.606},
      {"rejected":0.633,"raw":0.598},{"rejected":0.661,"raw":0.602},{"rejected":0.674,"raw":0.591},{"rejected":0.391,"raw":0.584},{"rejected":0.394,"raw":0.596},{"rejected":0.421,"raw":0.587},{"rejected":0.441,"raw":0.573},{"rejected":0.460,"raw":0.591},{"rejected":0.474,"raw":0.573},{"rejected":0.498,"raw":0.574},
      {"rejected":0.508,"raw":0.572},{"rejected":0.514,"raw":0.565},{"rejected":0.532,"raw":0.564},{"rejected":0.547,"raw":0.560},{"rejected":0.592,"raw":0.565},{"rejected":0.612,"raw":0.574},{"rejected":0.674,"raw":0.565},{"rejected":0.674,"raw":0.552},{"rejected":0.674,"raw":0.548},{"rejected":0.362,"raw":0.560},
      {"rejected":0.366,"raw":0.557},{"rejected":0.384,"raw":0.561},{"rejected":0.425,"raw":0.555},{"rejected":0.443,"raw":0.555},{"rejected":0.447,"raw":0.548},{"rejected":0.474,"raw":0.544},{"rejected":0.486,"raw":0.545},{"rejected":0.515,"raw":0.548},{"rejected":0.549,"raw":0.551},{"rejected":0.380,"raw":0.539},
      {"rejected":0.400,"raw":0.530},{"rejected":0.412,"raw":0.534},{"rejected":0.459,"raw":0.539},{"rejected":0.464,"raw":0.525},{"rejected":0.474,"raw":0.520},{"rejected":0.477,"raw":0.528},{"rejected":0.488,"raw":0.525},{"rejected":0.494,"raw":0.512},{"rejected":0.499,"raw":0.516},{"rejected":0.582,"raw":0.524},
      {"rejected":0.620,"raw":0.524},{"rejected":0.383,"raw":0.518},{"rejected":0.562,"raw":0.510},{"rejected":0.322,"raw":0.507},{"rejected":0.338,"raw":0.507},{"rejected":0.301,"raw":0.495},{"rejected":0.442,"raw":0.501},{"rejected":0.412,"raw":0.495},{"rejected":0.388,"raw":0.488},{"rejected":0.410,"raw":0.476},
      {"rejected":0.431,"raw":0.481},{"rejected":0.470,"raw":0.476},{"rejected":0.539,"raw":0.490},{"rejected":0.559,"raw":0.493},{"rejected":0.336,"raw":0.478},{"rejected":0.350,"raw":0.478},{"rejected":0.362,"raw":0.470},{"rejected":0.309,"raw":0.467},{"rejected":0.274,"raw":0.463},{"rejected":0.340,"raw":0.461},
      {"rejected":0.312,"raw":0.453},{"rejected":0.359,"raw":0.452},{"rejected":0.388,"raw":0.453},{"rejected":0.416,"raw":0.460},{"rejected":0.418,"raw":0.452},{"rejected":0.418,"raw":0.444},{"rejected":0.460,"raw":0.456},{"rejected":0.461,"raw":0.449},{"rejected":0.437,"raw":0.446},{"rejected":0.618,"raw":0.461},
      {"rejected":0.258,"raw":0.439},{"rejected":0.323,"raw":0.441},{"rejected":0.474,"raw":0.438},{"rejected":0.505,"raw":0.438},{"rejected":0.522,"raw":0.434},{"rejected":0.345,"raw":0.428},{"rejected":0.358,"raw":0.424},{"rejected":0.410,"raw":0.432},{"rejected":0.412,"raw":0.425},{"rejected":0.332,"raw":0.406},
      {"rejected":0.337,"raw":0.405},{"rejected":0.351,"raw":0.409},{"rejected":0.379,"raw":0.413},{"rejected":0.387,"raw":0.414},{"rejected":0.395,"raw":0.411},{"rejected":0.424,"raw":0.407},{"rejected":0.443,"raw":0.409},{"rejected":0.447,"raw":0.407},{"rejected":0.236,"raw":0.402},{"rejected":0.350,"raw":0.400},
      {"rejected":0.378,"raw":0.405},{"rejected":0.410,"raw":0.396},{"rejected":0.413,"raw":0.391},{"rejected":0.388,"raw":0.384},{"rejected":0.353,"raw":0.381},{"rejected":0.349,"raw":0.373},{"rejected":0.392,"raw":0.365},{"rejected":0.412,"raw":0.361},{"rejected":0.291,"raw":0.352},{"rejected":0.297,"raw":0.338},
      {"rejected":0.333,"raw":0.352},{"rejected":0.350,"raw":0.346},{"rejected":0.370,"raw":0.346},{"rejected":0.424,"raw":0.340},{"rejected":0.453,"raw":0.335},{"rejected":0.261,"raw":0.331},{"rejected":0.377,"raw":0.301}
    ],
    "mbconv3d": [
      {"rejected":0.887,"raw":0.909},{"rejected":0.866,"raw":0.901},{"rejected":0.874,"raw":0.901},{"rejected":0.728,"raw":0.895},{"rejected":0.731,"raw":0.888},{"rejected":0.652,"raw":0.874},{"rejected":0.689,"raw":0.869},{"rejected":0.693,"raw":0.874},{"rejected":0.751,"raw":0.877},{"rejected":0.782,"raw":0.877},
      {"rejected":0.803,"raw":0.857},{"rejected":0.837,"raw":0.865},{"rejected":0.753,"raw":0.833},{"rejected":0.778,"raw":0.823},{"rejected":0.828,"raw":0.819},{"rejected":0.890,"raw":0.823},{"rejected":0.768,"raw":0.806},{"rejected":0.701,"raw":0.800},{"rejected":0.728,"raw":0.797},{"rejected":0.840,"raw":0.797},
      {"rejected":0.902,"raw":0.797},{"rejected":0.626,"raw":0.788},{"rejected":0.808,"raw":0.788},{"rejected":0.774,"raw":0.785},{"rejected":0.787,"raw":0.785},{"rejected":0.779,"raw":0.769},{"rejected":0.692,"raw":0.772},{"rejected":0.680,"raw":0.764},{"rejected":0.816,"raw":0.767},{"rejected":0.828,"raw":0.756},
      {"rejected":0.828,"raw":0.749},{"rejected":0.726,"raw":0.749},{"rejected":0.726,"raw":0.737},{"rejected":0.564,"raw":0.738},{"rejected":0.651,"raw":0.729},{"rejected":0.661,"raw":0.740},{"rejected":0.816,"raw":0.729},{"rejected":0.828,"raw":0.729},{"rejected":0.602,"raw":0.727},{"rejected":0.614,"raw":0.731},
      {"rejected":0.600,"raw":0.716},{"rejected":0.619,"raw":0.717},{"rejected":0.677,"raw":0.723},{"rejected":0.689,"raw":0.723},{"rejected":0.711,"raw":0.712},{"rejected":0.728,"raw":0.712},{"rejected":0.741,"raw":0.712},{"rejected":0.639,"raw":0.704},{"rejected":0.709,"raw":0.696},{"rejected":0.693,"raw":0.689},
      {"rejected":0.658,"raw":0.689},{"rejected":0.677,"raw":0.689},{"rejected":0.738,"raw":0.691},{"rejected":0.741,"raw":0.683},{"rejected":0.828,"raw":0.687},{"rejected":0.541,"raw":0.691},{"rejected":0.499,"raw":0.681},{"rejected":0.719,"raw":0.681},{"rejected":0.402,"raw":0.673},{"rejected":0.665,"raw":0.675},
      {"rejected":0.681,"raw":0.670},{"rejected":0.698,"raw":0.670},{"rejected":0.663,"raw":0.660},{"rejected":0.672,"raw":0.658},{"rejected":0.451,"raw":0.664},{"rejected":0.463,"raw":0.660},{"rejected":0.565,"raw":0.662},{"rejected":0.602,"raw":0.658},{"rejected":0.626,"raw":0.658},{"rejected":0.264,"raw":0.647},
      {"rejected":0.585,"raw":0.643},{"rejected":0.615,"raw":0.641},{"rejected":0.715,"raw":0.645},{"rejected":0.728,"raw":0.642},{"rejected":0.715,"raw":0.635},{"rejected":0.505,"raw":0.639},{"rejected":0.520,"raw":0.641},{"rejected":0.463,"raw":0.621},{"rejected":0.476,"raw":0.620},{"rejected":0.486,"raw":0.624},
      {"rejected":0.496,"raw":0.622},{"rejected":0.503,"raw":0.631},{"rejected":0.535,"raw":0.625},{"rejected":0.563,"raw":0.618},{"rejected":0.583,"raw":0.618},{"rejected":0.609,"raw":0.620},{"rejected":0.622,"raw":0.624},{"rejected":0.637,"raw":0.625},{"rejected":0.647,"raw":0.632},{"rejected":0.652,"raw":0.624},
      {"rejected":0.663,"raw":0.622},{"rejected":0.501,"raw":0.614},{"rejected":0.516,"raw":0.611},{"rejected":0.613,"raw":0.613},{"rejected":0.626,"raw":0.611},{"rejected":0.635,"raw":0.609},{"rejected":0.665,"raw":0.606},{"rejected":0.499,"raw":0.606},{"rejected":0.312,"raw":0.598},{"rejected":0.551,"raw":0.598},
      {"rejected":0.564,"raw":0.600},{"rejected":0.588,"raw":0.598},{"rejected":0.778,"raw":0.598},{"rejected":0.492,"raw":0.593},{"rejected":0.551,"raw":0.590},{"rejected":0.669,"raw":0.591},{"rejected":0.451,"raw":0.578},{"rejected":0.512,"raw":0.583},{"rejected":0.528,"raw":0.583},{"rejected":0.572,"raw":0.586},
      {"rejected":0.740,"raw":0.582},{"rejected":0.741,"raw":0.574},{"rejected":0.488,"raw":0.574},{"rejected":0.499,"raw":0.566},{"rejected":0.521,"raw":0.565},{"rejected":0.529,"raw":0.568},{"rejected":0.563,"raw":0.568},{"rejected":0.577,"raw":0.572},{"rejected":0.588,"raw":0.574},{"rejected":0.623,"raw":0.581},
      {"rejected":0.639,"raw":0.576},{"rejected":0.701,"raw":0.580},{"rejected":0.689,"raw":0.568},{"rejected":0.717,"raw":0.574},{"rejected":0.615,"raw":0.562},{"rejected":0.631,"raw":0.563},{"rejected":0.651,"raw":0.563},{"rejected":0.768,"raw":0.562},{"rejected":0.554,"raw":0.559},{"rejected":0.566,"raw":0.559},
      {"rejected":0.576,"raw":0.561},{"rejected":0.589,"raw":0.553},{"rejected":0.639,"raw":0.555},{"rejected":0.719,"raw":0.556},{"rejected":0.731,"raw":0.548},{"rejected":0.828,"raw":0.554},{"rejected":0.433,"raw":0.551},{"rejected":0.440,"raw":0.551},{"rejected":0.466,"raw":0.551},{"rejected":0.486,"raw":0.553},
      {"rejected":0.514,"raw":0.556},{"rejected":0.541,"raw":0.551},{"rejected":0.560,"raw":0.540},{"rejected":0.512,"raw":0.540},{"rejected":0.590,"raw":0.537},{"rejected":0.615,"raw":0.535},{"rejected":0.810,"raw":0.535},{"rejected":0.462,"raw":0.531},{"rejected":0.476,"raw":0.528},{"rejected":0.480,"raw":0.524},
      {"rejected":0.500,"raw":0.527},{"rejected":0.545,"raw":0.526},{"rejected":0.558,"raw":0.532},{"rejected":0.566,"raw":0.532},{"rejected":0.281,"raw":0.520},{"rejected":0.416,"raw":0.515},{"rejected":0.432,"raw":0.510},{"rejected":0.551,"raw":0.515},{"rejected":0.562,"raw":0.519},{"rejected":0.528,"raw":0.512},
      {"rejected":0.555,"raw":0.507},{"rejected":0.383,"raw":0.501},{"rejected":0.396,"raw":0.501},{"rejected":0.423,"raw":0.499},{"rejected":0.512,"raw":0.501},{"rejected":0.528,"raw":0.497},{"rejected":0.440,"raw":0.493},{"rejected":0.455,"raw":0.488},{"rejected":0.549,"raw":0.494},{"rejected":0.352,"raw":0.484},
      {"rejected":0.396,"raw":0.476},{"rejected":0.377,"raw":0.472},{"rejected":0.462,"raw":0.474},{"rejected":0.478,"raw":0.473},{"rejected":0.488,"raw":0.476},{"rejected":0.560,"raw":0.484},{"rejected":0.583,"raw":0.484},{"rejected":0.472,"raw":0.463},{"rejected":0.487,"raw":0.456},{"rejected":0.415,"raw":0.461},
      {"rejected":0.444,"raw":0.463},{"rejected":0.538,"raw":0.459},{"rejected":0.614,"raw":0.464},{"rejected":0.322,"raw":0.451},{"rejected":0.391,"raw":0.444},{"rejected":0.412,"raw":0.444},{"rejected":0.425,"raw":0.440},{"rejected":0.514,"raw":0.452},{"rejected":0.528,"raw":0.440},{"rejected":0.528,"raw":0.434},
      {"rejected":0.585,"raw":0.444},{"rejected":0.475,"raw":0.435},{"rejected":0.369,"raw":0.423},{"rejected":0.379,"raw":0.426},{"rejected":0.383,"raw":0.417},{"rejected":0.394,"raw":0.420},{"rejected":0.438,"raw":0.426},{"rejected":0.446,"raw":0.424},{"rejected":0.475,"raw":0.426},{"rejected":0.549,"raw":0.422},
      {"rejected":0.589,"raw":0.417},{"rejected":0.615,"raw":0.417},{"rejected":0.354,"raw":0.415},{"rejected":0.364,"raw":0.421},{"rejected":0.400,"raw":0.418},{"rejected":0.415,"raw":0.412},{"rejected":0.379,"raw":0.403},{"rejected":0.391,"raw":0.397},{"rejected":0.410,"raw":0.401},{"rejected":0.428,"raw":0.406},
      {"rejected":0.440,"raw":0.406},{"rejected":0.445,"raw":0.402},{"rejected":0.472,"raw":0.403},{"rejected":0.491,"raw":0.405},{"rejected":0.289,"raw":0.397},{"rejected":0.326,"raw":0.400},{"rejected":0.552,"raw":0.398},{"rejected":0.360,"raw":0.394},{"rejected":0.383,"raw":0.390},{"rejected":0.395,"raw":0.394},
      {"rejected":0.410,"raw":0.388},{"rejected":0.419,"raw":0.388},{"rejected":0.429,"raw":0.389},{"rejected":0.436,"raw":0.394},{"rejected":0.475,"raw":0.384},{"rejected":0.615,"raw":0.390},{"rejected":0.322,"raw":0.371},{"rejected":0.340,"raw":0.382},{"rejected":0.360,"raw":0.381},{"rejected":0.361,"raw":0.371},
      {"rejected":0.383,"raw":0.381},{"rejected":0.403,"raw":0.371},{"rejected":0.529,"raw":0.388},{"rejected":0.602,"raw":0.377},{"rejected":0.302,"raw":0.361},{"rejected":0.410,"raw":0.360},{"rejected":0.499,"raw":0.357},{"rejected":0.516,"raw":0.357},{"rejected":0.529,"raw":0.365},{"rejected":0.590,"raw":0.365},
      {"rejected":0.317,"raw":0.347},{"rejected":0.378,"raw":0.346},{"rejected":0.403,"raw":0.351},{"rejected":0.425,"raw":0.346},{"rejected":0.442,"raw":0.343},{"rejected":0.453,"raw":0.347},{"rejected":0.463,"raw":0.348},{"rejected":0.541,"raw":0.352},{"rejected":0.577,"raw":0.346},{"rejected":0.602,"raw":0.351},
      {"rejected":0.315,"raw":0.328},{"rejected":0.402,"raw":0.331},{"rejected":0.415,"raw":0.321},{"rejected":0.529,"raw":0.331},{"rejected":0.353,"raw":0.297},{"rejected":0.340,"raw":0.284}
    ],
    "notes": [
      {"line": 1, "note": "* - raw means unprocessed data (with no"},
      {"line": 2, "note": "frequency\u00a0\u00a0\u00a0 filtering\u00a0\u00a0\u00a0 nor\u00a0\u00a0\u00a0 the\u00a0\u00a0\u00a0 FASTER"},
      {"line": 3, "note": "method applied)"},
      {"line": 4, "note": "** - points over the line represent cases"},
      {"line": 5, "note": "when\u00a0\u00a0 unprocessed\u00a0\u00a0 data\u00a0\u00a0 is\u00a0\u00a0 performed"},
      {"line": 6, "note": "with greater accuracy"},
      {"line": 7, "note": "*** -\u00a0\u00a0 points below line represent cases"},
      {"line": 8, "note": "when the FASTER-ed data was the better"},
      {"line": 9, "note": "performer"}
    ]
  },
  "bounds": "flush",
  "columns": 3,
  "spacing": {"row": 324, "column": 348},
  "concat": [
    {
      "title": "EEGNet", "width": 877, "height": 768,
      "layer": [
        {"data": {"name": "eegnet"}, "mark": "point",
         "encoding": {
           "x": {"field": "rejected", "type": "quantitative", "scale": {"domain": [0, 1], "nice": false}, "axis": {"title": "artifact rejected", "values": [0,0.1,0.2,0.3,0.4,0.5,0.6,0.7,0.8,0.9,1], "format": ".1f"}},
           "y": {"field": "raw", "type": "quantitative", "scale": {"domain": [0, 1], "nice": false}, "axis": {"title": "raw*", "values": [0,0.1,0.2,0.3,0.4,0.5,0.6,0.7,0.8,0.9,1], "format": ".1f"}}}},
        {"data": {"values": [{}]}, "mark": {"type": "rule", "color": "#ff0000", "strokeWidth": 3.5},
         "encoding": {"x": {"datum": 0, "type": "quantitative"}, "y": {"datum": 0, "type": "quantitative"}, "x2": {"datum": 1}, "y2": {"datum": 1}}},
        {"data": {"values": [{}]}, "mark": {"type": "text", "text": ["216 pts", "over line**"], "align": "left", "baseline": "alphabetic", "lineHeight": 71},
         "encoding": {"x": {"datum": 0.03, "type": "quantitative"}, "y": {"datum": 0.875, "type": "quantitative"}}},
        {"data": {"values": [{}]}, "mark": {"type": "text", "text": ["94 pts", "below line***"], "align": "left", "baseline": "alphabetic", "lineHeight": 71},
         "encoding": {"x": {"datum": 0.637, "type": "quantitative"}, "y": {"datum": 0.166, "type": "quantitative"}}}
      ]
    },
    {
      "title": "Conv3D Net", "width": 877, "height": 768,
      "layer": [
        {"data": {"name": "conv3d"}, "mark": "point",
         "encoding": {
           "x": {"field": "rejected", "type": "quantitative", "scale": {"domain": [0, 1], "nice": false}, "axis": {"title": "artifact rejected", "values": [0,0.1,0.2,0.3,0.4,0.5,0.6,0.7,0.8,0.9,1], "format": ".1f"}},
           "y": {"field": "raw", "type": "quantitative", "scale": {"domain": [0, 1], "nice": false}, "axis": {"title": "raw", "values": [0,0.1,0.2,0.3,0.4,0.5,0.6,0.7,0.8,0.9,1], "format": ".1f"}}}},
        {"data": {"values": [{}]}, "mark": {"type": "rule", "color": "#ff0000", "strokeWidth": 3.5},
         "encoding": {"x": {"datum": 0, "type": "quantitative"}, "y": {"datum": 0, "type": "quantitative"}, "x2": {"datum": 1}, "y2": {"datum": 1}}},
        {"data": {"values": [{}]}, "mark": {"type": "text", "text": ["211 pts", "over line"], "align": "left", "baseline": "alphabetic", "lineHeight": 71},
         "encoding": {"x": {"datum": 0.04, "type": "quantitative"}, "y": {"datum": 0.87, "type": "quantitative"}}},
        {"data": {"values": [{}]}, "mark": {"type": "text", "text": ["99 pts", "below line"], "align": "left", "baseline": "alphabetic", "lineHeight": 71},
         "encoding": {"x": {"datum": 0.648, "type": "quantitative"}, "y": {"datum": 0.16, "type": "quantitative"}}}
      ]
    },
    {
      "title": "Conv2D Net", "width": 877, "height": 768,
      "layer": [
        {"data": {"name": "conv2d"}, "mark": "point",
         "encoding": {
           "x": {"field": "rejected", "type": "quantitative", "scale": {"domain": [0, 1], "nice": false}, "axis": {"title": "artifact rejected", "values": [0,0.1,0.2,0.3,0.4,0.5,0.6,0.7,0.8,0.9,1], "format": ".1f"}},
           "y": {"field": "raw", "type": "quantitative", "scale": {"domain": [0, 1], "nice": false}, "axis": {"title": "raw", "values": [0,0.1,0.2,0.3,0.4,0.5,0.6,0.7,0.8,0.9,1], "format": ".1f"}}}},
        {"data": {"values": [{}]}, "mark": {"type": "rule", "color": "#ff0000", "strokeWidth": 3.5},
         "encoding": {"x": {"datum": 0, "type": "quantitative"}, "y": {"datum": 0, "type": "quantitative"}, "x2": {"datum": 1}, "y2": {"datum": 1}}},
        {"data": {"values": [{}]}, "mark": {"type": "text", "text": ["202 pts", "over line"], "align": "left", "baseline": "alphabetic", "lineHeight": 71},
         "encoding": {"x": {"datum": 0.042, "type": "quantitative"}, "y": {"datum": 0.878, "type": "quantitative"}}},
        {"data": {"values": [{}]}, "mark": {"type": "text", "text": ["109 pts", "below line"], "align": "left", "baseline": "alphabetic", "lineHeight": 71},
         "encoding": {"x": {"datum": 0.651, "type": "quantitative"}, "y": {"datum": 0.166, "type": "quantitative"}}}
      ]
    },
    {
      "title": "Shallow ConvNet", "width": 877, "height": 768,
      "layer": [
        {"data": {"name": "shallow"}, "mark": "point",
         "encoding": {
           "x": {"field": "rejected", "type": "quantitative", "scale": {"domain": [0, 1], "nice": false}, "axis": {"title": "artifact rejected", "values": [0,0.1,0.2,0.3,0.4,0.5,0.6,0.7,0.8,0.9,1], "format": ".1f"}},
           "y": {"field": "raw", "type": "quantitative", "scale": {"domain": [0, 1], "nice": false}, "axis": {"title": "raw", "values": [0,0.1,0.2,0.3,0.4,0.5,0.6,0.7,0.8,0.9,1], "format": ".1f"}}}},
        {"data": {"values": [{}]}, "mark": {"type": "rule", "color": "#ff0000", "strokeWidth": 3.5},
         "encoding": {"x": {"datum": 0, "type": "quantitative"}, "y": {"datum": 0, "type": "quantitative"}, "x2": {"datum": 1}, "y2": {"datum": 1}}},
        {"data": {"values": [{}]}, "mark": {"type": "text", "text": ["257 pts", "over line"], "align": "left", "baseline": "alphabetic", "lineHeight": 71},
         "encoding": {"x": {"datum": 0.05, "type": "quantitative"}, "y": {"datum": 0.867, "type": "quantitative"}}},
        {"data": {"values": [{}]}, "mark": {"type": "text", "text": ["53 pts", "below line"], "align": "left", "baseline": "alphabetic", "lineHeight": 71},
         "encoding": {"x": {"datum": 0.657, "type": "quantitative"}, "y": {"datum": 0.158, "type": "quantitative"}}}
      ]
    },
    {
      "title": "MB Conv3D Net", "width": 877, "height": 768,
      "layer": [
        {"data": {"name": "mbconv3d"}, "mark": "point",
         "encoding": {
           "x": {"field": "rejected", "type": "quantitative", "scale": {"domain": [0, 1], "nice": false}, "axis": {"title": "artifact rejected", "values": [0,0.1,0.2,0.3,0.4,0.5,0.6,0.7,0.8,0.9,1], "format": ".1f"}},
           "y": {"field": "raw", "type": "quantitative", "scale": {"domain": [0, 1], "nice": false}, "axis": {"title": "raw", "values": [0,0.1,0.2,0.3,0.4,0.5,0.6,0.7,0.8,0.9,1], "format": ".1f"}}}},
        {"data": {"values": [{}]}, "mark": {"type": "rule", "color": "#ff0000", "strokeWidth": 3.5},
         "encoding": {"x": {"datum": 0, "type": "quantitative"}, "y": {"datum": 0, "type": "quantitative"}, "x2": {"datum": 1}, "y2": {"datum": 1}}},
        {"data": {"values": [{}]}, "mark": {"type": "text", "text": ["151 pts", "over line"], "align": "left", "baseline": "alphabetic", "lineHeight": 71},
         "encoding": {"x": {"datum": 0.047, "type": "quantitative"}, "y": {"datum": 0.869, "type": "quantitative"}}},
        {"data": {"values": [{}]}, "mark": {"type": "text", "text": ["158 pts", "below line"], "align": "left", "baseline": "alphabetic", "lineHeight": 71},
         "encoding": {"x": {"datum": 0.655, "type": "quantitative"}, "y": {"datum": 0.158, "type": "quantitative"}}}
      ]
    },
    {
      "width": 877, "height": 768,
      "view": {"stroke": null},
      "data": {"name": "notes"},
      "mark": {"type": "text", "align": "left", "baseline": "alphabetic", "fontSize": 56},
      "encoding": {
        "x": {"datum": 0, "type": "quantitative", "scale": {"domain": [0.161, 1.161], "nice": false}, "axis": null},
        "y": {"field": "line", "type": "quantitative", "scale": {"domain": [-1.206, 9.726], "nice": false, "zero": false, "reverse": true}, "axis": null},
        "text": {"field": "note"}
      }
    }
  ]
}
